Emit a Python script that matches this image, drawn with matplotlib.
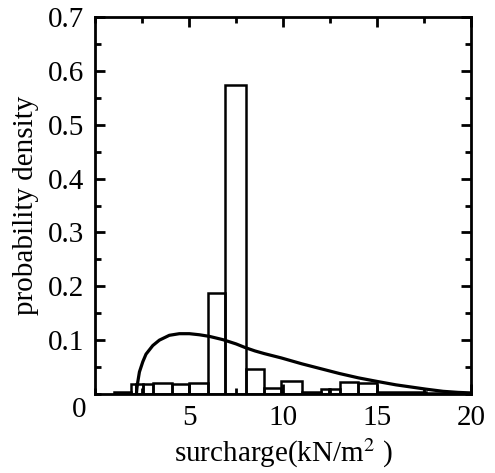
import numpy as np
import matplotlib.pyplot as plt
from matplotlib.ticker import MultipleLocator

# histogram bins (kN/m^2) and densities
bin_edges = [1.0, 1.9, 2.2, 2.55, 3.1, 4.1, 5.0, 6.0, 6.93, 8.0, 9.0, 9.9,
             11.0, 12.0, 12.45, 13.0, 14.0, 15.0, 17.6, 20.0]
bin_density = [0.004, 0.018, 0.018, 0.018, 0.021, 0.019, 0.021, 0.188, 0.574,
               0.046, 0.011, 0.024, 0.004, 0.009, 0.009, 0.022, 0.021, 0.004, 0.002]

# fitted density curve
curve_x = [2.2, 2.23, 2.27, 2.36, 2.54, 2.71, 3.07, 3.42, 3.95, 4.48, 5.02,
           5.55, 6.08, 6.79, 7.5, 8.0, 8.5, 9.0, 9.9, 11.0, 12.0, 13.0, 14.0,
           15.05, 16.0, 17.0, 17.6, 18.5, 19.3, 20.0]
curve_y = [0.0, 0.012, 0.022, 0.041, 0.060, 0.074, 0.090, 0.100, 0.109, 0.112,
           0.112, 0.110, 0.107, 0.101, 0.093, 0.086, 0.080, 0.075, 0.067, 0.056,
           0.047, 0.038, 0.030, 0.023, 0.017, 0.012, 0.009, 0.005, 0.003, 0.002]

x_ticks = [5, 10, 15, 20]
y_ticks = [0.1, 0.2, 0.3, 0.4, 0.5, 0.6, 0.7]

plt.rcParams['font.family'] = ['Liberation Serif', 'DejaVu Serif']
plt.rcParams['mathtext.fontset'] = 'stix'

fig = plt.figure(figsize=(4.95, 4.73), dpi=100)
ax = fig.add_axes([0.192, 0.167, 0.760, 0.797])

edges = np.array(bin_edges)
ax.bar(edges[:-1], bin_density, width=np.diff(edges), align='edge',
       fill=False, edgecolor='black', linewidth=1.8)
ax.plot(curve_x, curve_y, color='black', linewidth=2.3)

ax.set_xlim(0, 20)
ax.set_ylim(0, 0.7)
ax.set_xticks(x_ticks)
ax.set_yticks(y_ticks)
ax.xaxis.set_minor_locator(MultipleLocator(2.5))
ax.yaxis.set_minor_locator(MultipleLocator(0.05))
ax.tick_params(which='both', direction='in', top=True, right=True,
               labelsize=21, width=2, pad=8)
ax.tick_params(which='major', length=7)
ax.tick_params(which='minor', length=4)
for s in ax.spines.values():
    s.set_linewidth(2)

# shared origin label
ax.annotate('0', xy=(0, 0), xytext=(-16, -16), textcoords='offset pixels',
            ha='center', va='center', fontsize=21)

ax.set_xlabel('surcharge(kN/m$^{2}$ )', fontsize=21, labelpad=4)
ax.set_ylabel('probability density', fontsize=21, labelpad=6)

fig.savefig('out.png', dpi=100)
